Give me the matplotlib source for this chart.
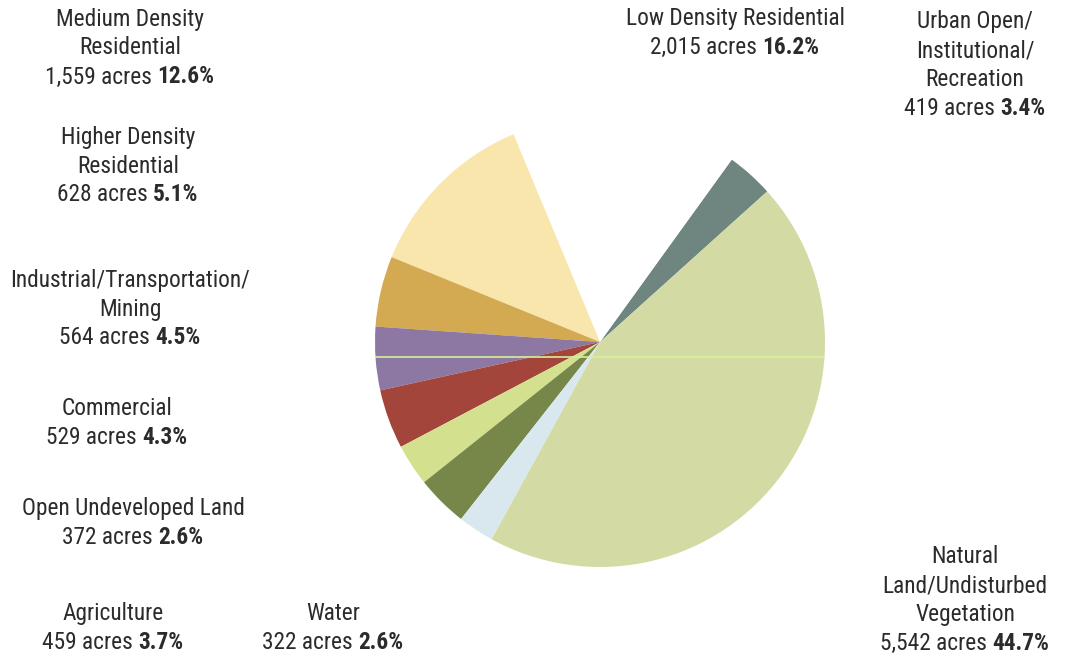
import matplotlib
matplotlib.use("Agg")
import matplotlib.pyplot as plt
from matplotlib.offsetbox import TextArea, HPacker, VPacker, AnnotationBbox
from matplotlib import font_manager

# ---- data ----
categories = ["Urban Open/\nInstitutional/\nRecreation", "Low Density Residential",
              "Medium Density\nResidential", "Higher Density\nResidential",
              "Industrial/Transportation/\nMining", "Commercial",
              "Open Undeveloped Land", "Agriculture", "Water",
              "Natural\nLand/Undisturbed\nVegetation"]
acres = [419, 2015, 1559, 628, 564, 529, 372, 459, 322, 5542]
acre_labels = ["419", "2,015", "1,559", "628", "564", "529", "372", "459", "322", "5,542"]
pct_labels = ["3.4%", "16.2%", "12.6%", "5.1%", "4.5%", "4.3%", "2.6%", "3.7%", "2.6%", "44.7%"]
colors = ["#6e8580", "#ffffff", "#f8e6ac", "#d3a952", "#8c78a3", "#a4453b",
          "#d3e18e", "#77874a", "#d9e7ef", "#d4daa4"]

# label centres (pixels, top-left origin)
label_pos = [(975, 65), (735, 33), (130, 48), (128, 166), (130, 309), (117, 423),
             (133, 523), (113, 628), (333, 628), (965, 600)]

W, H = 1069, 661
fig = plt.figure(figsize=(W / 100, H / 100), dpi=100)

names = set(f.name for f in font_manager.fontManager.ttflist)
fam, fs, sep = "Liberation Sans", 15, 6
for cand, size, sp in [("Liberation Sans Narrow", 15.5, 5), ("Arial Narrow", 15.5, 5),
                       ("Roboto Condensed", 16.8, 4.3), ("Archivo Narrow", 16, 5),
                       ("PT Sans Narrow", 16.5, 5)]:
    if cand in names:
        fam, fs, sep = cand, size, sp
        break
txtcol = "#2b2b2b"

cx, cy, r = 600, 342, 225
ax = fig.add_axes([(cx - r) / W, (H - cy - r) / H, 2 * r / W, 2 * r / H])
ax.pie(acres, colors=colors, startangle=42, counterclock=True, radius=1,
       wedgeprops=dict(linewidth=0))
ax.set_xlim(-1, 1)
ax.set_ylim(-1, 1)
ax.set_aspect("equal")
ax.axis("off")
ax.plot([-1, 1], [-0.067, -0.067], color="#d6f09a", lw=1.2, zorder=5)

for name, a, p, (x, y) in zip(categories, acre_labels, pct_labels, label_pos):
    rows = []
    for line in name.split("\n"):
        rows.append(TextArea(line, textprops=dict(family=fam, size=fs, color=txtcol)))
    last = HPacker(children=[
        TextArea(f"{a} acres ", textprops=dict(family=fam, size=fs, color=txtcol)),
        TextArea(p, textprops=dict(family=fam, size=fs, color=txtcol, weight="bold"))],
        align="baseline", pad=0, sep=0)
    rows.append(last)
    box = VPacker(children=rows, align="center", pad=0, sep=sep)
    ab = AnnotationBbox(box, (x / W, 1 - y / H), xycoords="figure fraction",
                        frameon=False, box_alignment=(0.5, 0.5))
    fig.add_artist(ab)

fig.savefig("out.png", dpi=100, facecolor="white")
